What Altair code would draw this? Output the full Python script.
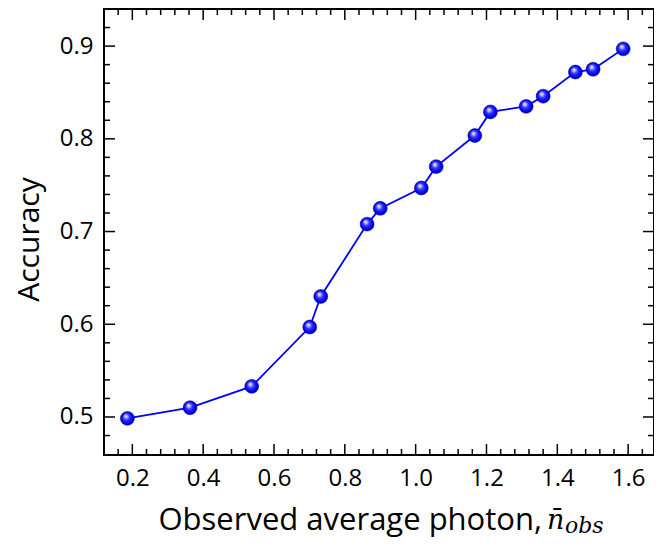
import altair as alt
import pandas as pd

# Data
photon = [0.186, 0.363, 0.537, 0.701, 0.732, 0.863, 0.900, 1.016, 1.058,
          1.167, 1.211, 1.312, 1.360, 1.451, 1.501, 1.586]
accuracy = [0.4985, 0.510, 0.533, 0.597, 0.630, 0.708, 0.725, 0.747, 0.770,
            0.8035, 0.829, 0.835, 0.846, 0.872, 0.875, 0.897]

x_major = [0.2, 0.4, 0.6, 0.8, 1.0, 1.2, 1.4, 1.6]
x_minor = [0.16, 0.24, 0.28, 0.32, 0.36, 0.44, 0.48, 0.52, 0.56, 0.64, 0.68,
           0.72, 0.76, 0.84, 0.88, 0.92, 0.96, 1.04, 1.08, 1.12, 1.16, 1.24,
           1.28, 1.32, 1.36, 1.44, 1.48, 1.52, 1.56, 1.64]
y_major = [0.5, 0.6, 0.7, 0.8, 0.9]
y_minor = [0.48, 0.52, 0.54, 0.56, 0.58, 0.62, 0.64, 0.66, 0.68, 0.72, 0.74,
           0.76, 0.78, 0.82, 0.84, 0.86, 0.88, 0.92]

x_title = "Observed average photon,"
y_title = "Accuracy"
math_n = "n\u0304"
math_sub = "obs"

W, H = 550, 446
XDOM = [0.12, 1.673]
YDOM = [0.459, 0.94]
MAJ, MIN = 11, 6

df = pd.DataFrame({"x": photon, "y": accuracy})
xs = alt.Scale(domain=XDOM, nice=False, zero=False)
ys = alt.Scale(domain=YDOM, nice=False, zero=False)

xaxis = alt.Axis(values=x_major, format=".1f", ticks=False, tickSize=0,
                 domain=False, grid=False, labelFont="Open Sans",
                 labelFontSize=24, labelColor="black", labelPadding=30,
                 labelBaseline="alphabetic", labelFlush=False,
                 title=x_title, titleFont="Open Sans", titleFontSize=31,
                 titleFontWeight="normal", titleColor="black", titleX=54,
                 titleY=74, titleAlign="left", titleBaseline="alphabetic",
                 titleAngle=0)
yaxis = alt.Axis(values=y_major, format=".1f", ticks=False, tickSize=0,
                 domain=False, grid=False, labelFont="Open Sans",
                 labelFontSize=24, labelColor="black", labelPadding=11,
                 labelBaseline="middle", labelFlush=False,
                 title=y_title, titleFont="Open Sans", titleFontSize=30,
                 titleFontWeight="normal", titleColor="black", titleX=-66,
                 titleY=230, titleAlign="center", titleBaseline="alphabetic",
                 titleAngle=270)

line = alt.Chart(df).mark_line(color="#0000ff", strokeWidth=1.8).encode(
    x=alt.X("x:Q", scale=xs, axis=xaxis),
    y=alt.Y("y:Q", scale=ys, axis=yaxis),
)

grad = alt.RadialGradient(
    gradient="radial",
    stops=[alt.GradientStop(color="#ffffff", offset=0),
           alt.GradientStop(color="#c0c0ff", offset=0.16),
           alt.GradientStop(color="#3434ff", offset=0.42),
           alt.GradientStop(color="#0000f0", offset=0.75),
           alt.GradientStop(color="#0000a0", offset=1)],
    x1=0.38, y1=0.32, r1=0, x2=0.5, y2=0.5, r2=0.56,
)
pts = alt.Chart(df).mark_circle(size=195, fill=grad, stroke="#000080",
                                strokeWidth=0.5, opacity=1).encode(
    x=alt.X("x:Q", scale=xs, axis=xaxis),
    y=alt.Y("y:Q", scale=ys, axis=yaxis),
)


def xticks(vals, y0, y1):
    return alt.Chart(pd.DataFrame({"x": vals})).mark_rule(
        color="black", strokeWidth=1.5).encode(
        x=alt.X("x:Q", scale=xs, axis=xaxis),
        y=alt.value(y0), y2=alt.value(y1))


def yticks(vals, x0, x1):
    return alt.Chart(pd.DataFrame({"y": vals})).mark_rule(
        color="black", strokeWidth=1.5).encode(
        y=alt.Y("y:Q", scale=ys, axis=yaxis),
        x=alt.value(x0), x2=alt.value(x1))


ticks = [
    xticks(x_major, H, H - MAJ), xticks(x_minor, H, H - MIN),
    xticks(x_major, 0, MAJ), xticks(x_minor, 0, MIN),
    yticks(y_major, 0, MAJ), yticks(y_minor, 0, MIN),
    yticks(y_major, W, W - MAJ), yticks(y_minor, W, W - MIN),
]

n_text = alt.Chart(pd.DataFrame({"t": [math_n]})).mark_text(
    font="DejaVu Serif", fontStyle="italic", fontSize=27, color="black",
    align="left", baseline="alphabetic").encode(
    text="t:N", x=alt.value(443), y=alt.value(520))
sub_text = alt.Chart(pd.DataFrame({"t": [math_sub]})).mark_text(
    font="DejaVu Serif", fontStyle="italic", fontSize=22, color="black",
    align="left", baseline="alphabetic").encode(
    text="t:N", x=alt.value(461), y=alt.value(524))

chart = alt.layer(line, pts, *ticks, n_text, sub_text).properties(
    width=W, height=H,
    autosize=alt.AutoSizeParams(type="none"),
    padding={"left": 96, "top": 1, "right": 0, "bottom": 85},
).configure_view(stroke="black", strokeWidth=2)

chart.save("out.html", embed_options={"renderer": "svg", "actions": False})
